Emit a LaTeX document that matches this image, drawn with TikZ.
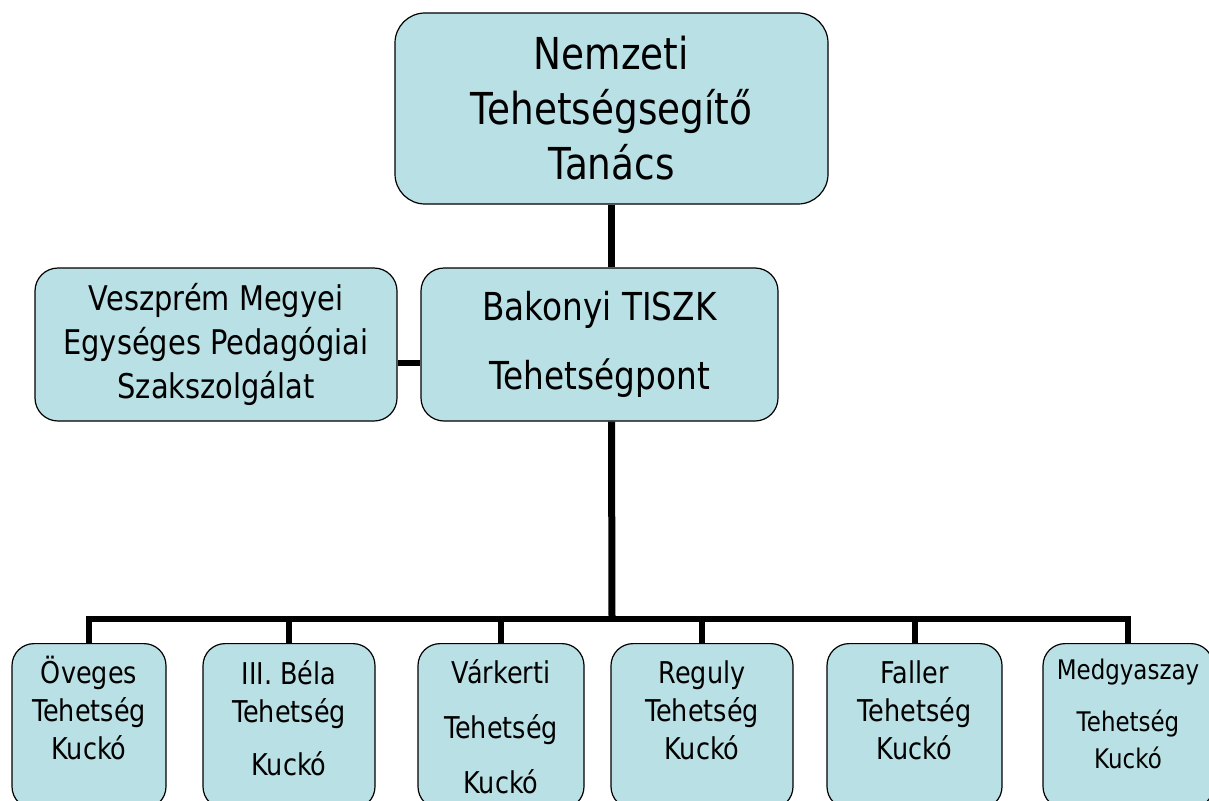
\documentclass[tikz,border=0pt]{standalone}
\usepackage{fontspec}
\setmainfont[FakeStretch=0.85]{DejaVu Sans}
\definecolor{boxblue}{RGB}{185,224,228}
\begin{document}
\begin{tikzpicture}[x=1pt,y=-1pt]
    \tikzstyle{unit}=[draw=black,line width=1.2pt,fill=boxblue,align=center,inner sep=0pt]
    \tikzstyle{kucko}=[unit,rounded corners=22pt,anchor=north,font=\fontsize{30}{38}\selectfont]
    \tikzstyle{edge}=[draw,line width=6pt]
    \useasboundingbox (0,0) rectangle (1209,800);
    \clip (0,0) rectangle (1209,800);
    \begin{scope}
        \node [unit,rounded corners=30pt,minimum width=433pt,minimum height=191pt,font=\fontsize{44}{55}\selectfont] (ntt) at (611.5,108.5) {Nemzeti\\Tehetségsegítő\\Tanács};
        \node [unit,rounded corners=23pt,minimum width=362pt,minimum height=153pt,font=\fontsize{34}{44}\selectfont] (veszprem) at (216,344.5) {Veszprém Megyei\\Egységes Pedagógiai\\Szakszolgálat};
        \node [unit,rounded corners=23pt,minimum width=357pt,minimum height=153pt,font=\fontsize{38.5}{69}\selectfont] (bakony) at (599.5,344.5) {Bakonyi TISZK\\Tehetségpont};
        \node [kucko,minimum width=154pt,text height=116pt,text depth=49pt] (oveges) at (89,643) {Öveges\\Tehetség\\Kuckó};
        \node [kucko,minimum width=172pt,text height=132pt,text depth=33pt] (bela) at (289,643) {III. Béla\\Tehetség\\[15pt]Kuckó};
        \node [kucko,minimum width=166pt,text height=150pt,text depth=15pt] (varkert) at (501,643) {Várkerti\\[17pt]Tehetség\\[17pt]Kuckó};
        \node [kucko,minimum width=182pt,text height=116pt,text depth=49pt] (reguly) at (702,643) {Reguly\\Tehetség\\Kuckó};
        \node [kucko,minimum width=175pt,text height=116pt,text depth=49pt] (faller) at (914.5,643) {Faller\\Tehetség\\Kuckó};
        \node [kucko,minimum width=170pt,text height=125pt,text depth=40pt,font=\fontsize{27}{37}\selectfont] (medgy) at (1128,643) {Medgyaszay\\[15pt]Tehetség\\Kuckó};
        \coordinate (bus) at (612,619);
        \path[edge,line width=7pt] (ntt.south) -- (ntt.south |- bakony.north);
        \path[edge,line width=7pt] (bakony.south -| ntt.south) -- (bus);
        \path[edge] ([yshift=-18.5pt]veszprem.east) -- ([yshift=-18.5pt]bakony.west);
        \foreach \k in {oveges,bela,varkert,reguly,faller,medgy}
            \path[edge] (\k.north) |- (bus);
    \end{scope}
\end{tikzpicture}
\end{document}
